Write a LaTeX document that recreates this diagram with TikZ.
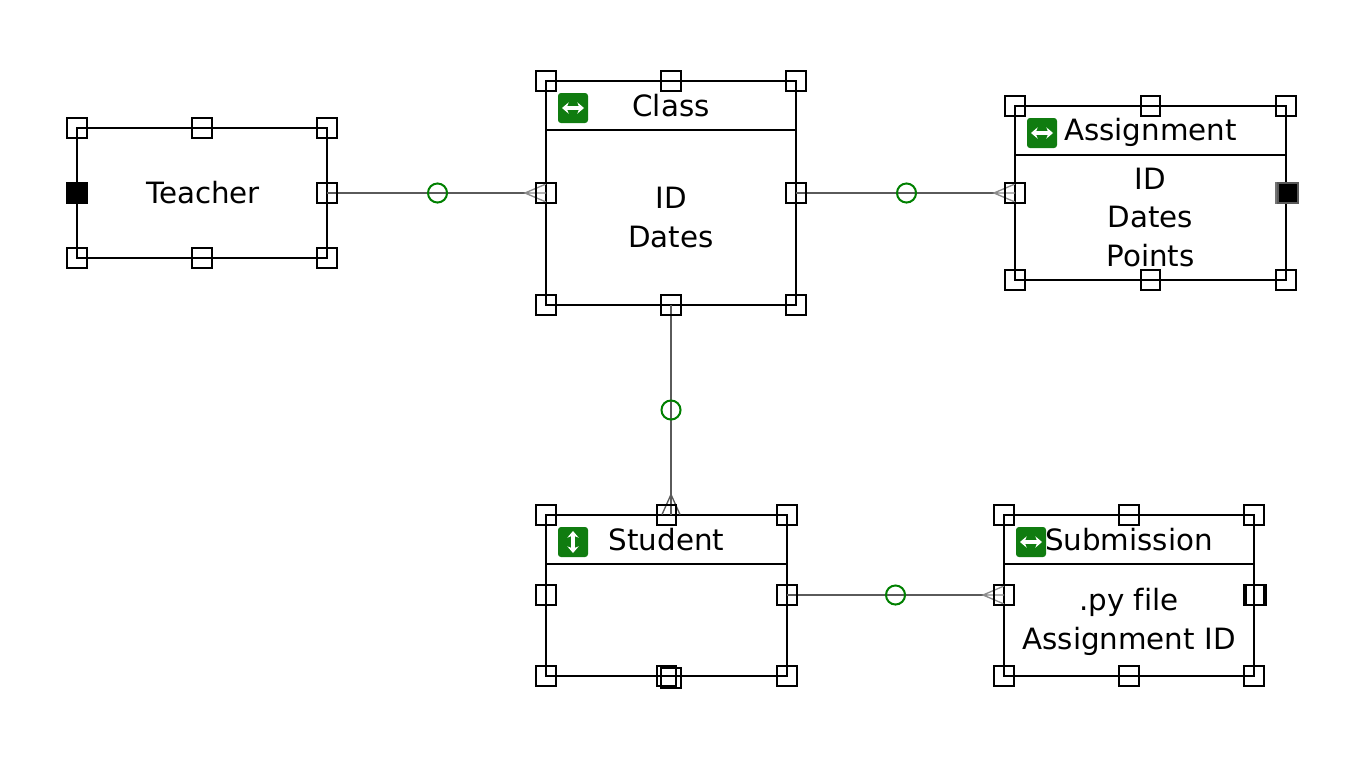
\documentclass[tikz,border=0pt]{standalone}
\usepackage{fontspec}
\setmainfont[Ligatures=NoCommon]{DejaVu Sans}
\usetikzlibrary{calc,arrows.meta}
\definecolor{icongreen}{HTML}{107C10}
\definecolor{cardgreen}{HTML}{008000}
\definecolor{linkgray}{HTML}{5A5A5A}
\definecolor{forkgray}{HTML}{8C8C8C}
\newcommand{\lbl}{\fontsize{22pt}{28.9pt}\selectfont}
\tikzset{
  x=0.75pt,y=-0.75pt,
  entity/.style={draw=black,line width=1.5pt,inner sep=0,outer sep=0,anchor=north west},
  handle/.style={draw=black,line width=1.5pt,inner sep=0,outer sep=0,minimum size=14.35pt},
  handlefill/.style={handle,fill=black},
  rule/.style={draw=black,line width=1.5pt},
  title/.style={font=\lbl,inner sep=0,outer sep=0,text=black},
  body/.style={font=\lbl,inner sep=0,outer sep=0,align=center,text=black},
  icon/.style={fill=icongreen,rounded corners=2.2pt,inner sep=0,outer sep=0,minimum size=22.5pt},
  iconarrow/.style={draw=white,line width=2.4pt,{Stealth[length=5pt,width=8.5pt]}-{Stealth[length=5pt,width=8.5pt]}},
  link/.style={draw=linkgray,line width=1.6pt},
  fork/.style={draw=forkgray,line width=1pt},
  card/.style={circle,draw=cardgreen,line width=1.5pt,fill=none,inner sep=0,outer sep=0,minimum size=14.3pt}
}
\begin{document}
\begin{tikzpicture}
\useasboundingbox (0,0) rectangle (1349,778);
% entities
\node[entity,minimum width=187.5pt,minimum height=97.5pt] (teacher) at (77,128) {};
\node[entity,minimum width=187.5pt,minimum height=168pt] (class) at (546,81) {};
\node[entity,minimum width=203.25pt,minimum height=130.5pt] (assignment) at (1015,106) {};
\node[entity,minimum width=180.75pt,minimum height=120.75pt] (student) at (546,514.5) {};
\node[entity,minimum width=187.5pt,minimum height=120.75pt] (submission) at (1004,514.5) {};
% header rules
\coordinate (cr) at (796,130); \draw[rule] (546,130) -- (cr);
\coordinate (ar) at (1286,155); \draw[rule] (1015,155) -- (ar);
\coordinate (sr) at (787,564); \draw[rule] (546,564) -- (sr);
\coordinate (ur) at (1254,564); \draw[rule] (1004,564) -- (ur);
% connectors
\coordinate (fa) at ($(class.west)+(-21,0)$);
\coordinate (fb) at ($(assignment.west)+(-21,0)$);
\coordinate (fc) at ($(student.north)+(4.5,-20)$);
\coordinate (sn) at ($(student.north)+(4.5,0)$);
\coordinate (fd) at ($(submission.west)+(-21,0)$);
\draw[link] (teacher.east) -- (fa);
\draw[link] (class.east) -- (fb);
\draw[link] (class.south) -- (sn);
\draw[link] (student.east) -- (fd);
\draw[fork] ($(class.west)+(0,-9)$) -- (fa) -- ($(class.west)+(0,9)$) (fa) -- (class.west);
\draw[fork] ($(assignment.west)+(0,-9)$) -- (fb) -- ($(assignment.west)+(0,9)$) (fb) -- (assignment.west);
\draw[fork,draw=linkgray] ($(sn)+(-9,0)$) -- (fc) -- ($(sn)+(9,0)$);
\draw[fork] ($(submission.west)+(0,-9)$) -- (fd) -- ($(submission.west)+(0,9)$) (fd) -- (submission.west);
\node[card] (c1) at (437.5,193) {};
\node[card] (c2) at (906.5,193) {};
\node[card] (c3) at (671,410) {};
\node[card] (c4) at (895.5,595) {};
% icons
\node[icon] (i1) at (573,108) {};
\draw[iconarrow] ($(i1)+(-11,0)$) -- ($(i1)+(11,0)$);
\node[icon] (i2) at (1042,133) {};
\draw[iconarrow] ($(i2)+(-11,0)$) -- ($(i2)+(11,0)$);
\node[icon] (i3) at (573,542) {};
\draw[iconarrow] ($(i3)+(0,-11)$) -- ($(i3)+(0,11)$);
\node[icon] (i4) at (1031,542) {};
\draw[iconarrow] ($(i4)+(-11,0)$) -- ($(i4)+(11,0)$);
% texts
\node[title] (t0) at (203,193) {Teacher};
\node[title] (t1) at (671,106) {Class};
\node[title] (t2) at (1150.5,132) {Assignment};
\node[title] (t3) at (666.5,540) {Student};
\node[title] (t4) at (1129,540) {Submission};
\node[body] (b1) at (671,217.5) {ID\\Dates};
\node[body] (b2) at (1150.5,217.5) {ID\\Dates\\Points};
\node[body] (b4) at (1129,622) {.py file\\Assignment ID};
% handles: Teacher
\foreach \hx/\hy/\hn in {77/128/a,202/128/b,327/128/c,327/193/d,327/258/e,202/258/f,77/258/g}
  \node[handle] (h1\hn) at (\hx,\hy) {};
\node[handlefill] (h1h) at (77,193) {};
% Class
\foreach \hx/\hy/\hn in {546/81/a,671/81/b,796/81/c,796/193/d,796/305/e,671/305/f,546/305/g,546/193/h}
  \node[handle] (h2\hn) at (\hx,\hy) {};
% Assignment
\foreach \hx/\hy/\hn in {1015/106/a,1150.5/106/b,1286/106/c,1286/280/e,1150.5/280/f,1015/280/g,1015/193/h}
  \node[handle] (h3\hn) at (\hx,\hy) {};
\node[handle,draw=black!55] (h3d) at (1286,193) {};
\node[handlefill,draw=black!65] (h3i) at (1288,193) {};
% Student
\foreach \hx/\hy/\hn in {546/515/a,666.5/515/b,787/515/c,787/595/d,787/676/e,666.5/676/f,546/676/g,546/595/h,671/678/i}
  \node[handle] (h4\hn) at (\hx,\hy) {};
% Submission
\foreach \hx/\hy/\hn in {1004/515/a,1129/515/b,1254/515/c,1254/595/d,1254/676/e,1129/676/f,1004/676/g,1004/595/h,1256/595/i}
  \node[handle] (h5\hn) at (\hx,\hy) {};
\end{tikzpicture}
\end{document}
